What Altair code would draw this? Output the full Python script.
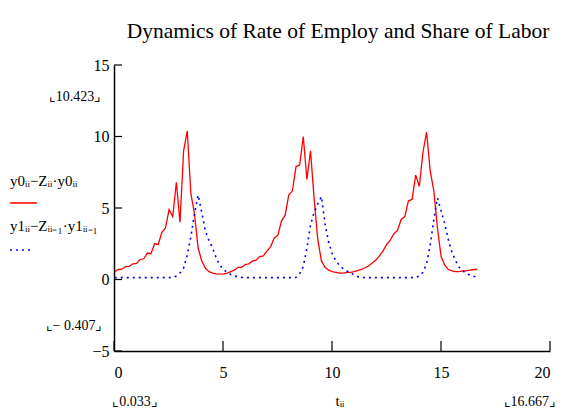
import altair as alt
import pandas as pd

# sampling grid of the Mathcad range variable ii (t from 0.033 to 16.667)
T_START = 0.033
T_STEP = 0.16634

# y0_ii - Z_ii * y0_ii  (rate of employment, red)
red = [0.55, 0.70, 0.72, 0.90, 0.92, 1.10, 1.12, 1.40, 1.45, 1.85,
       1.80, 2.50, 2.45, 3.30, 3.60, 4.90, 4.40, 6.80, 4.00, 9.00,
       10.40, 6.00, 4.60, 2.20, 1.30, 0.80, 0.55, 0.45, 0.40, 0.38,
       0.40, 0.45, 0.55, 0.65, 0.85, 0.85, 1.05, 1.10, 1.30, 1.35,
       1.60, 1.65, 2.00, 2.30, 2.90, 3.10, 4.10, 4.50, 5.90, 6.20,
       7.90, 8.00, 10.00, 7.00, 9.00, 5.60, 2.80, 1.30, 0.85, 0.65,
       0.55, 0.50, 0.45, 0.45, 0.50, 0.50, 0.55, 0.62, 0.70, 0.82,
       0.95, 1.15, 1.35, 1.65, 2.00, 2.45, 2.75, 3.20, 3.45, 4.20,
       4.40, 5.50, 5.60, 7.30, 6.50, 8.90, 10.30, 7.60, 6.20, 3.60,
       1.60, 1.00, 0.70, 0.60, 0.55, 0.55, 0.60, 0.60, 0.65, 0.70, 0.70]

# y1_ii - Z_ii-1 * y1_ii-1  (share of labor, blue dotted)
blue = [0.13, 0.13, 0.13, 0.13, 0.13, 0.13, 0.13, 0.13, 0.13, 0.13,
        0.13, 0.13, 0.13, 0.13, 0.13, 0.13, 0.15, 0.25, 0.45, 0.80,
        1.70, 3.00, 4.60, 5.90, 4.70, 3.40, 2.70, 2.20, 1.50, 1.00,
        0.70, 0.50, 0.35, 0.25, 0.18, 0.15, 0.13, 0.13, 0.13, 0.13,
        0.13, 0.13, 0.13, 0.13, 0.13, 0.13, 0.13, 0.13, 0.13, 0.13,
        0.15, 0.40, 0.90, 2.20, 3.80, 4.70, 5.30, 5.80, 3.90, 2.60,
        1.80, 1.30, 1.00, 0.75, 0.60, 0.50, 0.30, 0.20, 0.15, 0.13,
        0.13, 0.13, 0.13, 0.13, 0.13, 0.13, 0.13, 0.13, 0.13, 0.13,
        0.13, 0.13, 0.13, 0.15, 0.25, 0.50, 1.10, 2.40, 4.20, 5.70,
        4.80, 3.90, 2.80, 1.90, 1.30, 0.85, 0.60, 0.40, 0.30, 0.22, 0.20]

t = [round(T_START + i * T_STEP, 3) for i in range(len(red))]

x_ticks = [0, 5, 10, 15, 20]
y_ticks = [-5, 0, 5, 10, 15]

title_text = "Dynamics of Rate of Employ and Share of Labor"
legend_red = "y0ᵢᵢ−Zᵢᵢ·y0ᵢᵢ"
legend_blue = "y1ᵢᵢ−Zᵢᵢ₋₁·y1ᵢᵢ₋₁"
x_var = "tᵢᵢ"
y_max_lbl = "⌞10.423⌟"
y_min_lbl = "⌞− 0.407⌟"
x_min_lbl = "⌞0.033⌟"
x_max_lbl = "⌞16.667⌟"

FONT = "Liberation Serif"
W, H = 436, 286

df_red = pd.DataFrame({"t": t, "v": red})
df_blue = pd.DataFrame({"t": t, "v": blue})
df_xt = pd.DataFrame({"x": x_ticks})
df_yt = pd.DataFrame({"y": y_ticks})
one = pd.DataFrame({"a": [0]})

xs = alt.Scale(domain=[0, 20], nice=False)
ys = alt.Scale(domain=[-5, 15], nice=False)

x_axis = alt.Axis(values=x_ticks, ticks=False, grid=False, domainColor="#000000",
                  domainWidth=1.5, labelFont=FONT, labelFontSize=16, labelColor="#000000",
                  labelPadding=13, title="")
y_axis = alt.Axis(values=y_ticks, ticks=False, grid=False, domainColor="#000000",
                  domainWidth=1.5, labelFont=FONT, labelFontSize=16, labelColor="#000000",
                  labelPadding=5, title="")

red_line = alt.Chart(df_red).mark_line(color="#ff0000", strokeWidth=1.3, clip=True).encode(
    x=alt.X("t:Q", scale=xs, axis=x_axis),
    y=alt.Y("v:Q", scale=ys, axis=y_axis),
)
blue_line = alt.Chart(df_blue).mark_line(color="#0000ff", strokeWidth=1.6,
                                         strokeDash=[2, 4], clip=True).encode(
    x=alt.X("t:Q", scale=xs),
    y=alt.Y("v:Q", scale=ys),
)

x_tickmarks = alt.Chart(df_xt).mark_rule(color="#000000", strokeWidth=1.2).encode(
    x=alt.X("x:Q", scale=xs),
    y=alt.value(H),
    y2=alt.value(H - 10),
)
y_tickmarks = alt.Chart(df_yt).mark_rule(color="#000000", strokeWidth=1.2).encode(
    y=alt.Y("y:Q", scale=ys),
    x=alt.value(0),
    x2=alt.value(8),
)


def label(text, x, y, size=15, align="center", baseline="middle"):
    return alt.Chart(one).mark_text(font=FONT, fontSize=size, color="#000000",
                                    align=align, baseline=baseline).encode(
        x=alt.value(x), y=alt.value(y), text=alt.value(text))


title = label(title_text, 224, -33, size=21.5)
lbl_ymax = label(y_max_lbl, -39, 32, size=14)
lbl_ymin = label(y_min_lbl, -40, 261, size=14)
lbl_xmin = label(x_min_lbl, 21, 337, size=14)
lbl_xmax = label(x_max_lbl, 442, 337, size=14, align="right")
lbl_xvar = label(x_var, 226, 336, size=15)
leg_red_txt = label(legend_red, -104, 121, size=15, align="left", baseline="alphabetic")
leg_blue_txt = label(legend_blue, -104, 166, size=15, align="left", baseline="alphabetic")

leg_red_line = alt.Chart(one).mark_rule(color="#ff0000", strokeWidth=1.5).encode(
    x=alt.value(-104), x2=alt.value(-77), y=alt.value(138))
leg_blue_line = alt.Chart(one).mark_rule(color="#0000ff", strokeWidth=1.6,
                                         strokeDash=[2, 4]).encode(
    x=alt.value(-104), x2=alt.value(-81), y=alt.value(185))

chart = alt.layer(
    red_line, blue_line, x_tickmarks, y_tickmarks,
    title, lbl_ymax, lbl_ymin, lbl_xmin, lbl_xmax, lbl_xvar,
    leg_red_txt, leg_blue_txt, leg_red_line, leg_blue_line,
).properties(
    width=W, height=H,
    padding={"left": 106, "top": 57, "right": 8, "bottom": 60},
    autosize=alt.AutoSizeParams(type="none"),
    background="#ffffff",
).configure_view(stroke="transparent")

chart.save("out.html", embed_options={"renderer": "svg", "actions": False})
